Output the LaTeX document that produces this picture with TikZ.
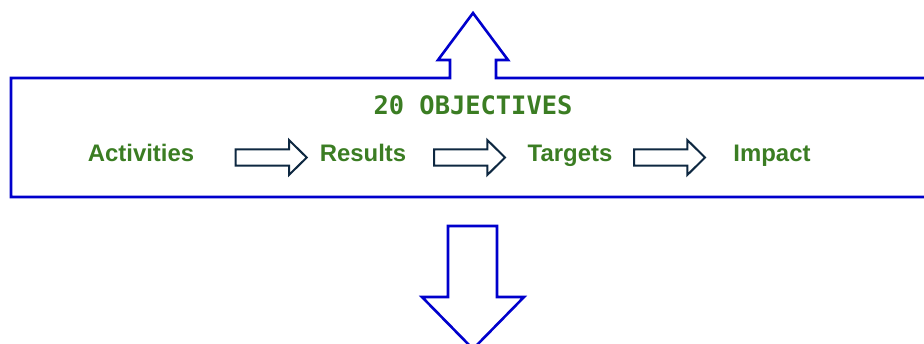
\documentclass[tikz,border=0pt]{standalone}
\usepackage{fontspec}
\setmainfont{Liberation Sans}
\newfontfamily\monofam{DejaVu Sans Mono}
\definecolor{leafgreen}{HTML}{3B7D23}
\definecolor{frameblue}{HTML}{0000CC}
\definecolor{navy}{HTML}{0E2841}
\tikzset{
  steplabel/.style={text=leafgreen, font=\fontsize{24}{27}\selectfont\bfseries, anchor=base, inner sep=0pt},
  titlelabel/.style={text=leafgreen, font=\monofam\fontsize{25.5}{28}\selectfont\bfseries, anchor=base, inner sep=0pt},
  bigline/.style={draw=frameblue, line width=2.6bp, line join=miter},
  pics/blockarrow/.style={code={
    \draw[draw=navy, fill=white, line width=2bp, line join=miter]
      (-35.5,-8.2) -- (17.8,-8.2) -- (17.8,-17.5) -- (35.5,0) -- (17.8,17.5) -- (17.8,8.2) -- (-35.5,8.2) -- cycle;
  }}
}
\begin{document}
\begin{tikzpicture}[x=1bp,y=-1bp]
\useasboundingbox (0,0) rectangle (924,343);
% frame with upward arrow
\draw[bigline] (935,78) -- (496,78) -- (496,60) -- (508,60) -- (473,13) -- (438,60) -- (450,60) -- (450,78) -- (11,78) -- (11,197) -- (935,197);
% downward arrow
\draw[bigline, fill=white] (448,226) -- (497,226) -- (497,297) -- (524,297) -- (473,349) -- (422,297) -- (448,297) -- cycle;
% title
\node[titlelabel] (title) at (473,114.3) {20 OBJECTIVES};
% steps
\node[steplabel] (act) at (141,161.7) {Activities};
\node[steplabel] (res) at (363,161.7) {Results};
\node[steplabel] (tar) at (570,161.7) {Targets};
\node[steplabel] (imp) at (772,161.7) {Impact};
% small block arrows
\pic at (271.2,157.5) {blockarrow};
\pic at (469.5,157.5) {blockarrow};
\pic at (669.5,157.5) {blockarrow};
\end{tikzpicture}
\end{document}
